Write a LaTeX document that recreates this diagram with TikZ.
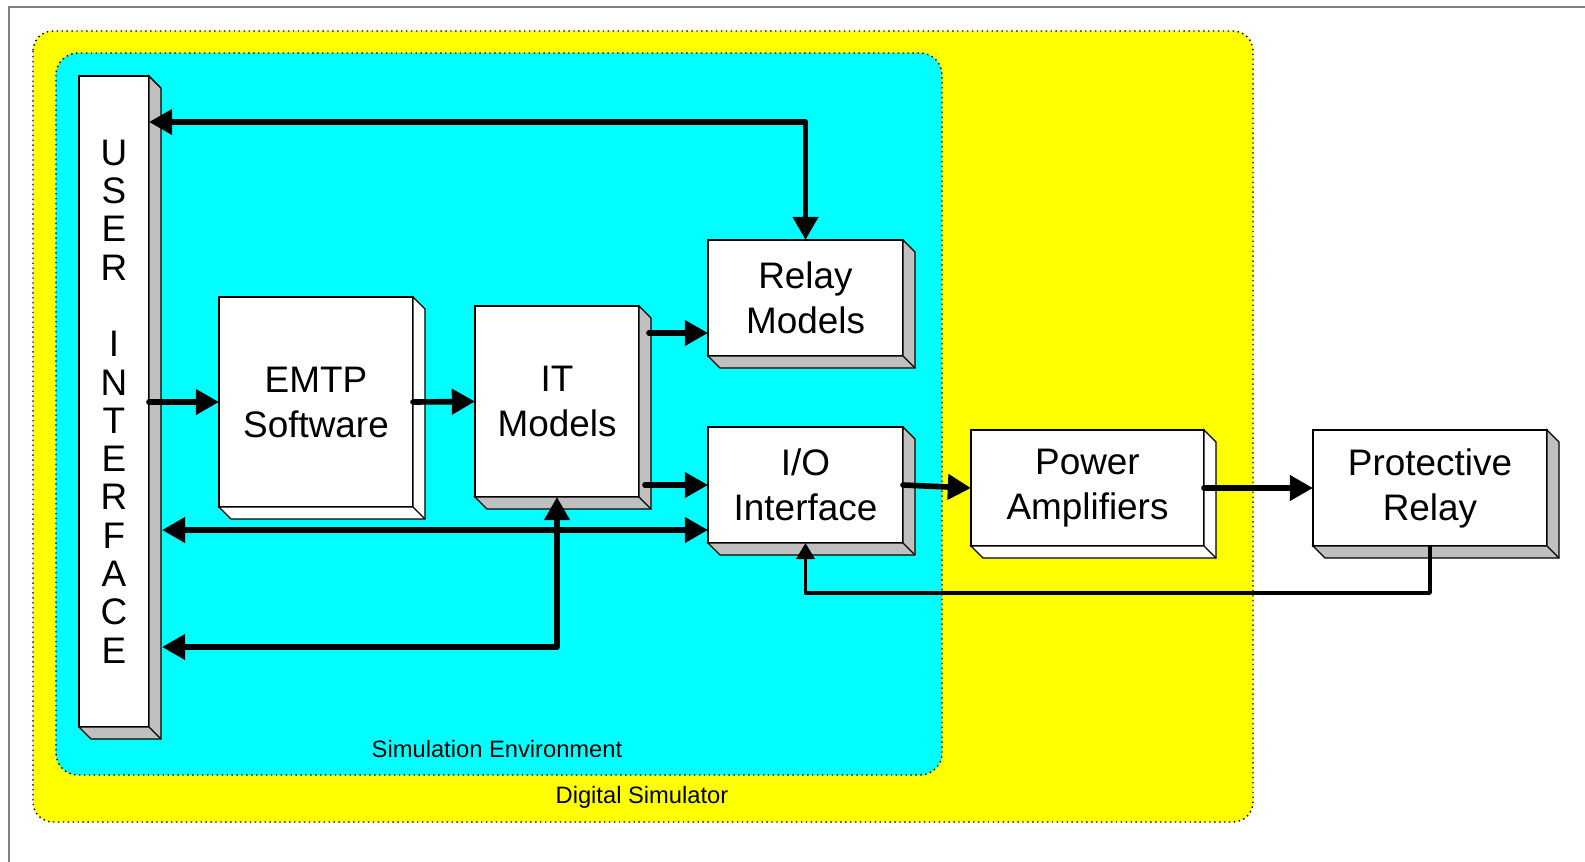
\documentclass[tikz,border=0pt]{standalone}
\usepackage{fontspec}
\setmainfont{Liberation Sans}
\usetikzlibrary{arrows.meta}
\definecolor{simyellow}{RGB}{255,255,0}
\definecolor{simcyan}{RGB}{0,255,255}
\definecolor{facegray}{RGB}{192,192,192}
\tikzset{
  block/.style={draw, thin, fill=white, inner sep=0pt, outer sep=0pt, align=center, font=\fontsize{10.5}{12.8}\selectfont},
  bigarrow/.style={line width=1.6pt, line cap=round, line join=round, >={Triangle[length=6.6pt,width=7pt]}},
  thinarrow/.style={line width=0.95pt, line join=round, >={Triangle[length=4.6pt,width=5.2pt]}},
  area/.style={draw, densely dotted, thin},
  arealabel/.style={font=\fontsize{6.75}{8}\selectfont}
}
\begin{document}
\begin{tikzpicture}[x=0.1mm,y=-0.1mm]
\useasboundingbox (0,0) rectangle (1585,862);
\draw[gray, line width=0.5pt] (9,862) -- (9,7) -- (1585,7);
\path[area, fill=simyellow, rounded corners=2mm] (33,31) rectangle (1253,822);
\path[area, fill=simcyan, rounded corners=2.2mm] (56,53) rectangle (942,775);
\node[arealabel] (simenv) at (497,749) {Simulation Environment};
\node[arealabel] (digsim) at (642,797) {Digital Simulator};

\node[block, minimum width=7mm, minimum height=65.1mm, font=\fontsize{10.5}{10.9}\selectfont] (ui) at (114,401.5) {U\\S\\E\\R\\[10.9pt]I\\N\\T\\E\\R\\F\\A\\C\\E};
\node[block, minimum width=19.4mm, minimum height=21mm] (emtp) at (316,402) {EMTP\\Software};
\node[block, minimum width=16.4mm, minimum height=19.1mm] (itm) at (557,401.5) {IT\\Models};
\node[block, minimum width=19.5mm, minimum height=11.6mm] (relay) at (805.5,298) {Relay\\Models};
\node[block, minimum width=19.5mm, minimum height=11.6mm] (io) at (805.5,485) {I/O\\Interface};
\node[block, minimum width=23.3mm, minimum height=11.6mm] (amp) at (1087.5,488) {Power\\Amplifiers};
\node[block, minimum width=23.4mm, minimum height=11.6mm] (prot) at (1430,488) {Protective\\Relay};
\foreach \b/\c in {ui/facegray, emtp/white, itm/facegray, relay/facegray, io/facegray, amp/white, prot/facegray}{
  \filldraw[fill=\c, thin] (\b.north east) -- ++(12,12) -- ([shift={(12,12)}]\b.south east) -- ([shift={(12,12)}]\b.south west) -- (\b.south west) -- (\b.south east) -- cycle;
  \draw[thin] (\b.south east) -- ++(12,12);
}

\draw[bigarrow,<->] ([yshift=-4.6mm]ui.north east) -| (relay.north);
\draw[bigarrow,->] (emtp.west -| ui.east) -- (emtp.west);
\draw[bigarrow,->] (emtp.east) -- (itm.west);
\coordinate (relayin) at ([yshift=2.3mm]relay.south west);
\draw[bigarrow,->] ([xshift=1mm]relayin -| itm.east) -- (relayin);
\draw[bigarrow,->] ([xshift=0.6mm]io.west -| itm.east) -- (io.west);
\coordinate (ioin) at ([yshift=1.3mm]io.south west);
\draw[bigarrow,<->] ([xshift=1.3mm]ioin -| ui.east) -- (ioin);
\draw[bigarrow,<->] (itm.south) |- ([shift={(1.3mm,8mm)}]ui.south east);
\draw[bigarrow,->] (io.east) -- (amp.west);
\draw[bigarrow,->] (amp.east) -- (prot.west);
\draw[thinarrow,->] (prot.south) -- ++(0,47) -| (io.south);
\end{tikzpicture}
\end{document}
